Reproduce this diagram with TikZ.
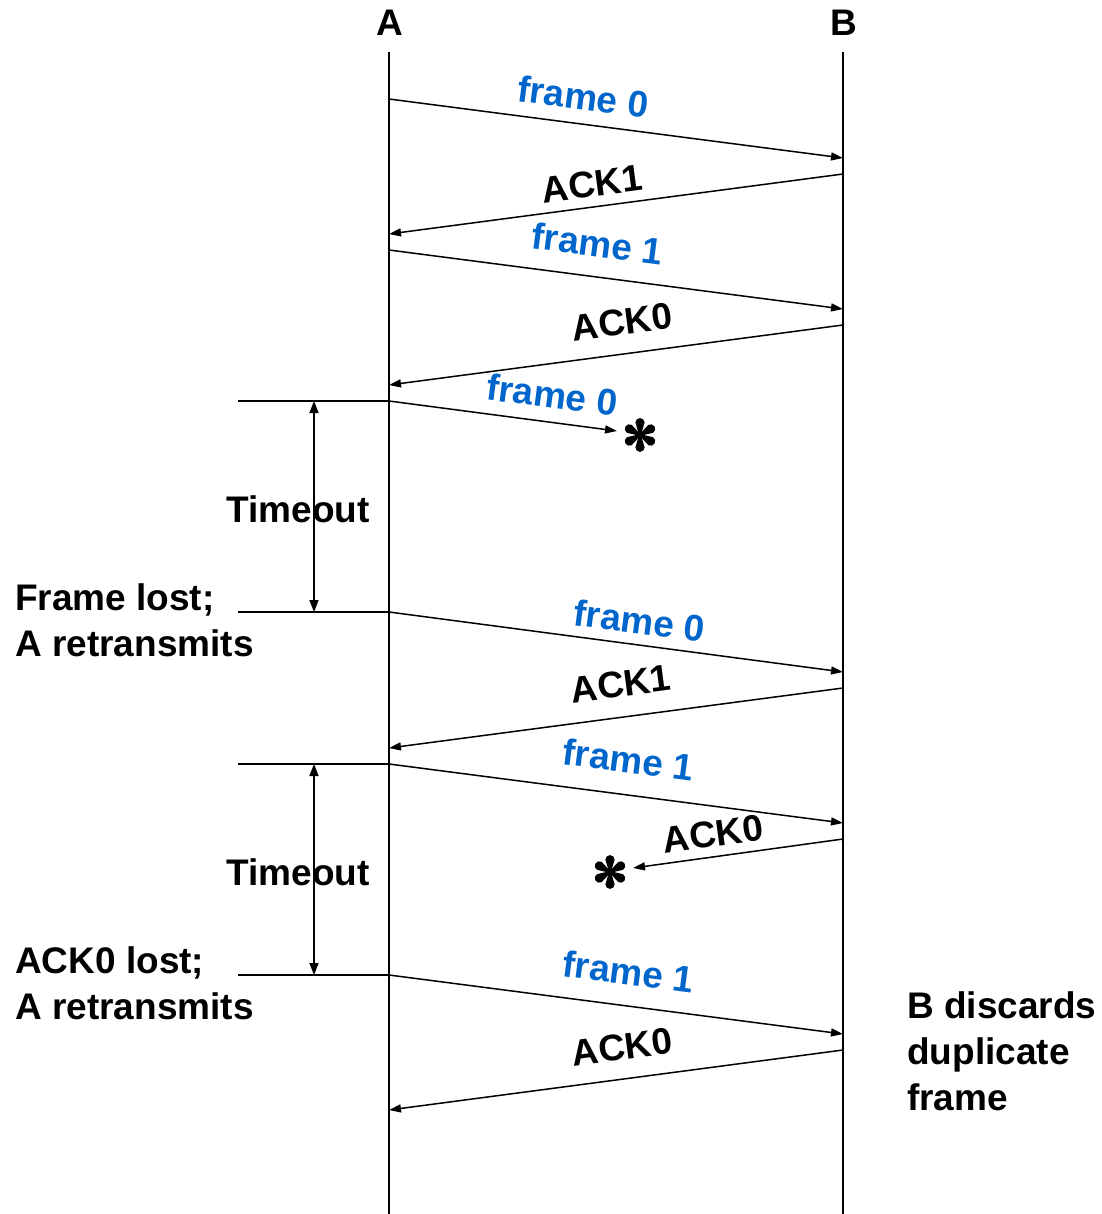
\documentclass[tikz,border=0pt]{standalone}
\usepackage{fontspec}
\setmainfont{Liberation Sans}
\usetikzlibrary{arrows.meta,calc}
\definecolor{fblue}{RGB}{0,102,204}
\begin{document}
\begin{tikzpicture}[x=1pt,y=-1pt,
  lbl/.style={font=\fontsize{37}{46}\selectfont\bfseries},
  msg/.style={line width=1.5pt,-{Triangle[length=12pt,width=8pt]}},
  flbl/.style={lbl, text=fblue, sloped, above=#1, inner sep=0pt},
  flbl/.default=13pt,
  albl/.style={lbl, sloped, above=#1, inner sep=0pt},
  albl/.default=9pt,
  life/.style={line width=1.8pt},
  tick/.style={line width=1.5pt},
  tmo/.style={line width=1.5pt,{Triangle[length=12pt,width=9pt]}-{Triangle[length=12pt,width=9pt]}},
  note/.style={lbl, align=left, anchor=base west, inner sep=0pt}
]
\useasboundingbox (0,0) rectangle (1101,1214);

% lifelines
\node[lbl, anchor=base, inner sep=0pt] (hA) at (390,36) {A};
\node[lbl, anchor=base, inner sep=0pt] (hB) at (844,36) {B};
\coordinate (Atop) at (389,52);  \coordinate (Abot) at (389,1214);
\coordinate (Btop) at (843,52);  \coordinate (Bbot) at (843,1214);
\draw[life] (Atop) -- (Abot);
\draw[life] (Btop) -- (Bbot);

% message end points
\coordinate (a1) at (389,99);   \coordinate (b1) at (843,158);
\coordinate (b2) at (843,174);  \coordinate (a2) at (389,234);
\coordinate (a3) at (389,250);  \coordinate (b3) at (843,309);
\coordinate (b4) at (843,325);  \coordinate (a4) at (389,385);
\coordinate (a5) at (389,401);  \coordinate (x1) at (617,431);
\coordinate (a6) at (389,612);  \coordinate (b6) at (843,672);
\coordinate (b7) at (843,688);  \coordinate (a7) at (389,748);
\coordinate (a8) at (389,764);  \coordinate (b8) at (843,823);
\coordinate (b9) at (843,839);  \coordinate (x2) at (633,868);
\coordinate (a10) at (389,975); \coordinate (b10) at (843,1034);
\coordinate (b11) at (843,1050);\coordinate (a11) at (389,1110);

% messages
\draw[msg] (a1) -- node[flbl=13pt, pos=.42] (l1) {frame 0} (b1);
\draw[msg] (b2) -- node[albl=9pt, pos=.546] (l2) {ACK1} (a2);
\draw[msg] (a3) -- node[flbl=19pt, pos=.45] (l3) {frame 1} (b3);
\draw[msg] (b4) -- node[albl=18pt, pos=.478] (l4) {ACK0} (a4);
\draw[msg] (a5) -- node[flbl=13pt, pos=.70] (l5) {frame 0} (x1);
\draw[msg] (a6) -- node[flbl=10pt, pos=.545] (l6) {frame 0} (b6);
\draw[msg] (b7) -- node[albl=19pt, pos=.48] (l7) {ACK1} (a7);
\draw[msg] (a8) -- node[flbl=21pt, pos=.518] (l8) {frame 1} (b8);
\draw[msg] (b9) -- node[albl=9pt, pos=.605] (l9) {ACK0} (x2);
\draw[msg] (a10) -- node[flbl=20pt, pos=.518] (l10) {frame 1} (b10);
\draw[msg] (b11) -- node[albl=18pt, pos=.478] (l11) {ACK0} (a11);

% asterisks (lost)
\coordinate (s1) at (640,435);
\coordinate (s2) at (610,872);
\foreach \c in {s1,s2}{
  \foreach \a in {90,30,-30,-90,150,210}{
    \fill[shift={(\c)}, rotate=\a] (0,-0.9) -- (12.3,-4.6) arc[start angle=-90, end angle=90, radius=4.6] -- (0,0.9) -- cycle;
  }
}

% timeout marks
\coordinate (t1) at (238,401); \coordinate (t2) at (238,612);
\coordinate (t3) at (238,764); \coordinate (t4) at (238,975);
\draw[tick] (t1) -- (a5);
\draw[tick] (t2) -- (a6);
\draw[tick] (t3) -- (a8);
\draw[tick] (t4) -- (a10);
\node[lbl, anchor=base, inner sep=0pt] (to1) at (298,522) {Timeout};
\node[lbl, anchor=base, inner sep=0pt] (to2) at (298,885) {Timeout};
\coordinate (u1) at (314,401); \coordinate (u2) at (314,612);
\coordinate (u3) at (314,764); \coordinate (u4) at (314,975);
\draw[tmo] (u1) -- (u2);
\draw[tmo] (u3) -- (u4);

% notes (base anchor = last line)
\node[note] (n1) at (15,656) {Frame lost;\\A retransmits};
\node[note] (n2) at (15,1019) {ACK0 lost;\\A retransmits};
\node[note] (n3) at (907,1110) {B discards\\duplicate\\frame};
\end{tikzpicture}
\end{document}
